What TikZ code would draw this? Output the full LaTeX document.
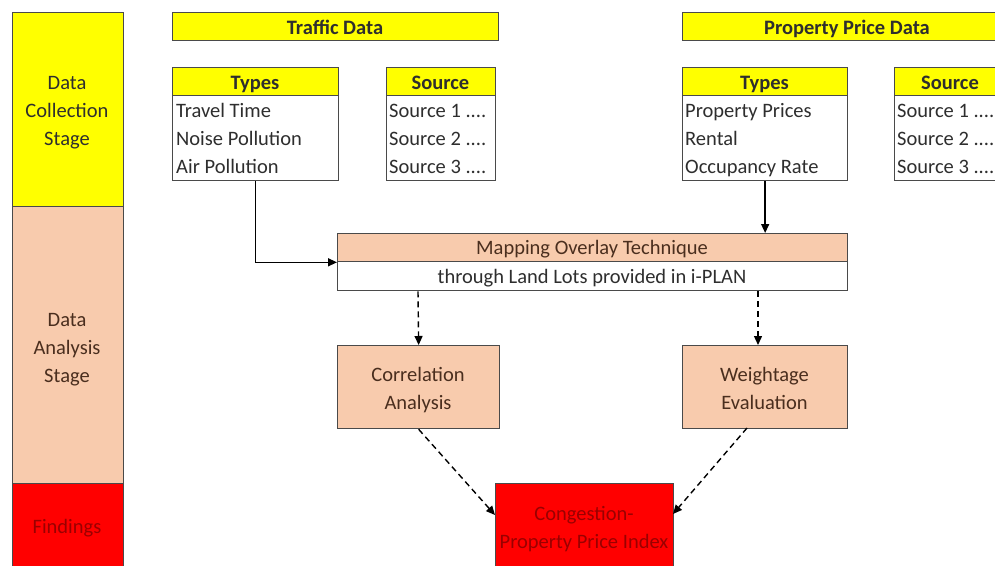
\documentclass[tikz,border=0pt]{standalone}
\usepackage{fontspec}
\setmainfont{Carlito}
\usetikzlibrary{arrows.meta}
\definecolor{yel}{HTML}{FFFF00}
\definecolor{peach}{HTML}{F8CBAD}
\definecolor{redc}{HTML}{FF0000}
\definecolor{bd}{HTML}{4A4A4A}
\definecolor{txt}{HTML}{2E2E2E}
\definecolor{brn}{HTML}{4A2E1E}
\definecolor{dred}{HTML}{9A0000}
\begin{document}
\begin{tikzpicture}[x=1pt,y=-1pt,
  font=\fontsize{20.5}{24}\selectfont, text=txt,
  box/.style={draw=bd, line width=1.3pt, inner sep=0pt, anchor=north west},
  lbl/.style={inner sep=0pt, anchor=center, text height=16pt, text depth=2pt},
  item/.style={lbl, anchor=west},
  hdr/.style={lbl, font=\fontsize{20.5}{24}\selectfont\bfseries},
  arr/.style={draw=black, line width=1.4pt, -{Triangle[length=9pt,width=8pt]}},
  darr/.style={arr, dash pattern=on 6pt off 4pt}]
\useasboundingbox (0,0) rectangle (995,565);
\clip (0,0) rectangle (995,565);
% stage column
\node[box, fill=yel, minimum width=111pt, minimum height=194pt] (dcs) at (12,12) {};
\node[box, fill=peach, minimum width=111pt, minimum height=277pt] (das) at (12,206) {};
\node[box, fill=redc, minimum width=111pt, minimum height=100pt] (fin) at (12,483) {};
\node[lbl] (dcs1) at (67,82) {Data};
\node[lbl] (dcs2) at (67,110) {Collection};
\node[lbl] (dcs3) at (67,138) {Stage};
\node[lbl, text=brn] (das1) at (67,319) {Data};
\node[lbl, text=brn] (das2) at (67,347) {Analysis};
\node[lbl, text=brn] (das3) at (67,375) {Stage};
\node[lbl, text=dred] (fin1) at (67,526) {Findings};
% traffic data
\node[box, fill=yel, minimum width=326pt, minimum height=28pt] (td) at (172,12) {};
\node[hdr] (tdt) at (335,27) {Traffic Data};
\node[box, fill=yel, minimum width=166pt, minimum height=28pt] (tth) at (172,67) {};
\node[hdr] (ttht) at (255,82) {Types};
\node[box, fill=white, minimum width=166pt, minimum height=85pt] (ttb) at (172,95) {};
\node[item] (tt1) at (176,110) {Travel Time};
\node[item] (tt2) at (176,138) {Noise Pollution};
\node[item] (tt3) at (176,166) {Air Pollution};
\node[box, fill=yel, minimum width=109pt, minimum height=28pt] (tsh) at (386,67) {};
\node[hdr] (tsht) at (440.5,82) {Source};
\node[box, fill=white, minimum width=109pt, minimum height=85pt] (tsb) at (386,95) {};
\node[item] (ts1) at (389,110) {Source 1 ....};
\node[item] (ts2) at (389,138) {Source 2 ....};
\node[item] (ts3) at (389,166) {Source 3 ....};
% property data
\node[box, fill=yel, minimum width=330pt, minimum height=28pt] (pd) at (682,12) {};
\node[hdr] (pdt) at (847,27) {Property Price Data};
\node[box, fill=yel, minimum width=165pt, minimum height=28pt] (pth) at (682,67) {};
\node[hdr] (ptht) at (764.5,82) {Types};
\node[box, fill=white, minimum width=165pt, minimum height=85pt] (ptb) at (682,95) {};
\node[item] (pt1) at (685,110) {Property Prices};
\node[item] (pt2) at (685,138) {Rental};
\node[item] (pt3) at (685,166) {Occupancy Rate};
\node[box, fill=yel, minimum width=112pt, minimum height=28pt] (psh) at (894,67) {};
\node[hdr] (psht) at (950,82) {Source};
\node[box, fill=white, minimum width=112pt, minimum height=85pt] (psb) at (894,95) {};
\node[item] (ps1) at (897,110) {Source 1 ....};
\node[item] (ps2) at (897,138) {Source 2 ....};
\node[item] (ps3) at (897,166) {Source 3 ....};
% mapping
\node[box, fill=peach, minimum width=510pt, minimum height=28pt] (maph) at (337,233) {};
\node[lbl, text=brn] (mapht) at (592,247) {Mapping Overlay Technique};
\node[box, fill=white, minimum width=510pt, minimum height=29pt] (mapb) at (337,261) {};
\node[lbl] (mapbt) at (592,276) {through Land Lots provided in i-PLAN};
% analysis boxes
\node[box, fill=peach, minimum width=162pt, minimum height=83pt] (cor) at (337,345) {};
\node[lbl, text=brn] (cor1) at (418,374) {Correlation};
\node[lbl, text=brn] (cor2) at (418,402) {Analysis};
\node[box, fill=peach, minimum width=165pt, minimum height=83pt] (wgt) at (682,345) {};
\node[lbl, text=brn] (wgt1) at (764.5,374) {Weightage};
\node[lbl, text=brn] (wgt2) at (764.5,402) {Evaluation};
% findings
\node[box, fill=redc, minimum width=178pt, minimum height=100pt] (cong) at (495,483) {};
\node[lbl, text=dred] (cong1) at (584,513) {Congestion-};
\node[lbl, text=dred] (cong2) at (584,541) {Property Price Index};
% connectors
\coordinate (cl) at (495,515);
\coordinate (cr) at (673,514);
\draw[arr] (ttb.south) |- (maph.south west);
\draw[arr] (ptb.south) -- (ptb.south |- maph.north);
\draw[darr] (mapb.south -| cor1) -- (cor.north);
\draw[darr] (mapb.south -| 758,0) -- (wgt.north -| 758,0);
\draw[darr] (cor.south) -- (cl);
\draw[darr] (747,428) -- (cr);
\end{tikzpicture}
\end{document}
